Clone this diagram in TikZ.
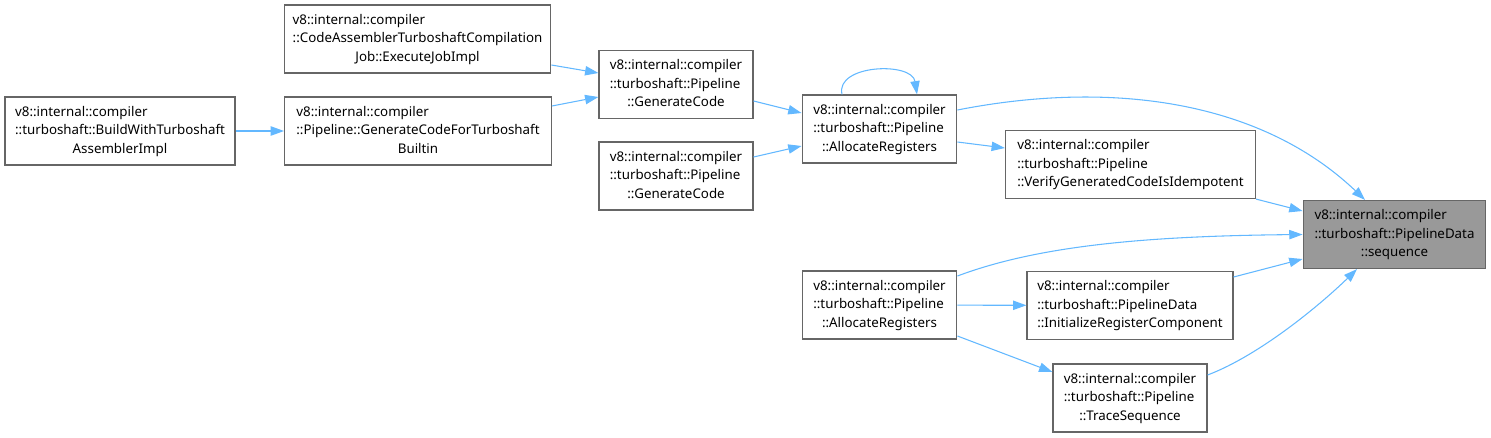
\documentclass[tikz,border=0pt]{standalone}
\usepackage{fontspec}
\setmainfont{Noto Sans}
\usetikzlibrary{arrows.meta, calc}

% three lines per box: the first two flush left, the last one centred
\newcommand{\fnbox}[3]{%
  \begin{tabular}{@{}l@{}}#1\\#2\\\multicolumn{1}{@{}c@{}}{#3}\end{tabular}}

\begin{document}
\begin{tikzpicture}[
    x=0.75pt, y=-0.75pt,
    every node/.style={font=\fontsize{10}{13.9}\selectfont},
]

% ---------------------------------------------------------------- colours
\definecolor{edgecol}{HTML}{63B8FF}   % call edges
\definecolor{framecol}{HTML}{666666}
\definecolor{focuscol}{HTML}{999999}  % the function the graph is about

\tikzset{
    fnode/.style={draw=framecol, line width=0.9pt, fill=white, inner sep=0pt,
        minimum height=51pt},
    focus/.style={fnode, fill=focuscol},
    call/.style={-{Triangle[length=10pt, width=7pt]}, edgecol, line width=0.8pt},
}

\useasboundingbox (0,0) rectangle (1491,437);

% ================================================================
% boxes, centres and sizes in pixels of the 1491 x 437 layout
% ================================================================
\node[fnode, minimum width=172.5pt] (build) at (120,131)
    {\fnbox{v8::internal::compiler}{::turboshaft::BuildWithTurboshaft}{AssemblerImpl}};
\node[fnode, minimum width=200pt] (job) at (417.5,39)
    {\fnbox{v8::internal::compiler}{::CodeAssemblerTurboshaftCompilation}{Job::ExecuteJobImpl}};
\node[fnode, minimum width=200pt] (gcft) at (418,131)
    {\fnbox{v8::internal::compiler}{::Pipeline::GenerateCodeForTurboshaft}{Builtin}};
\node[fnode, minimum width=115.5pt] (gc1) at (676,84.5)
    {\fnbox{v8::internal::compiler}{::turboshaft::Pipeline}{::GenerateCode}};
\node[fnode, minimum width=115.5pt] (gc2) at (676,176)
    {\fnbox{v8::internal::compiler}{::turboshaft::Pipeline}{::GenerateCode}};
\node[fnode, minimum width=116pt] (ar1) at (879.5,129)
    {\fnbox{v8::internal::compiler}{::turboshaft::Pipeline}{::AllocateRegisters}};
\node[fnode, minimum width=187.5pt] (verify) at (1130.5,164.5)
    {\fnbox{v8::internal::compiler}{::turboshaft::Pipeline}{::VerifyGeneratedCodeIsIdempotent}};
\node[focus, minimum width=137pt] (seq) at (1394.5,234.5)
    {\fnbox{v8::internal::compiler}{::turboshaft::PipelineData}{::sequence}};
\node[fnode, minimum width=116pt] (ar2) at (879.5,305)
    {\fnbox{v8::internal::compiler}{::turboshaft::Pipeline}{::AllocateRegisters}};
\node[fnode, minimum width=154.5pt] (init) at (1130,305.5)
    {\fnbox{v8::internal::compiler}{::turboshaft::PipelineData}{::InitializeRegisterComponent}};
\node[fnode, minimum width=115.5pt] (trace) at (1130,398)
    {\fnbox{v8::internal::compiler}{::turboshaft::Pipeline}{::TraceSequence}};

% ---------------------------------------------------------------- left part
\draw[call] (build) -- (gcft);
\draw[call] ($(job.east)+(0,26)$) -- ($(gc1.west)+(0,-11.5)$);
\draw[call] ($(gcft.east)+(0,-25)$) -- ($(gc1.west)+(0,12.5)$);
\draw[call] ($(gc1.east)+(0,16.5)$) -- ($(ar1.west)+(0,-16)$);
\draw[call] ($(gc2.east)+(0,-19)$) -- ($(ar1.west)+(0,17)$);

% self call on top
\draw[call] ($(ar1.north)+(-37.5,0)$)
    .. controls ($(ar1.north)+(-44.5,-30)$) and ($(ar1.north)+(32.5,-33)$)
    .. ($(ar1.north)+(37.5,0)$);

% ---------------------------------------------------------------- into sequence
\draw[call] ($(ar1.east)+(0,-19)$)
    .. controls (1110,80) and (1260,100) .. ($(seq.north)+(-29.5,0)$);
\draw[call] ($(ar1.east)+(0,13)$) -- ($(verify.west)+(0,-16.5)$);
\draw[call] (verify.south east) -- ($(seq.west)+(0,-23.5)$);
\draw[call] ($(ar2.east)+(0,-29)$)
    .. controls (1040,245) and (1150,236) .. (seq.west);
\draw[call] ($(init.east)+(0,-28.5)$) -- ($(seq.west)+(0,24.5)$);
\draw[call] (ar2) -- (init);
\draw[call] ($(ar2.east)+(0,31)$) -- ($(trace.west)+(0,-26)$);
\draw[call] ($(trace.east)+(0,-23)$)
    .. controls (1260,355) and (1320,305) .. ($(seq.south)+(-37.5,0)$);

\end{tikzpicture}
\end{document}
